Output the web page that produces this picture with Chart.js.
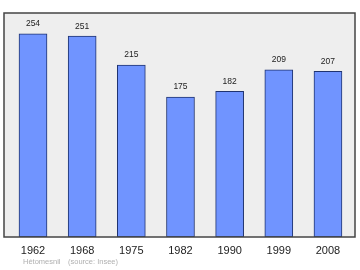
<!DOCTYPE html>
<html><head><meta charset="utf-8">
<script src="https://cdn.jsdelivr.net/npm/chart.js@4/dist/chart.umd.min.js"></script>
<style>html,body{margin:0;padding:0;background:#fff}#w{width:360px;height:270px}</style>
</head><body><div id="w"><canvas id="c" width="360" height="270"></canvas></div>
<script>
const years = ["1962","1968","1975","1982","1990","1999","2008"];
const population = [254, 251, 215, 175, 182, 209, 207];
const footerName = "Hétomesnil";
const footerSource = "(source: Insee)";

const points = population.map((v, i) => ({x: i, y: v}));

const framePlugin = {
  id: 'frame',
  beforeDatasetsDraw(chart) {
    const {ctx, chartArea: a} = chart;
    ctx.save();
    ctx.fillStyle = '#eeeeee';
    ctx.fillRect(a.left, a.top, a.right - a.left, a.bottom - a.top);
    ctx.restore();
  },
  afterDatasetsDraw(chart) {
    const {ctx, chartArea: a} = chart;
    ctx.save();
    ctx.strokeStyle = '#444444';
    ctx.lineWidth = 1.5;
    ctx.strokeRect(a.left, a.top, a.right - a.left, a.bottom - a.top);
    const meta = chart.getDatasetMeta(0);
    ctx.fillStyle = '#222222';
    ctx.font = '8.5px "Liberation Sans", Arial, sans-serif';
    ctx.textAlign = 'center';
    ctx.textBaseline = 'middle';
    meta.data.forEach((bar, i) => {
      ctx.fillText(String(population[i]), bar.x, bar.y - 10);
    });
    ctx.fillStyle = '#b0b0b0';
    ctx.font = '7.5px "Liberation Sans", Arial, sans-serif';
    ctx.textAlign = 'left';
    ctx.fillText(footerName, 23, 262);
    ctx.fillText(footerSource, 68, 262);
    ctx.restore();
  }
};

new Chart(document.getElementById('c'), {
  type: 'bar',
  data: {
    datasets: [{
      data: points,
      backgroundColor: '#7094ff',
      borderColor: '#1f3370',
      borderWidth: 1,
      barThickness: 28,
      borderSkipped: false
    }]
  },
  options: {
    responsive: false,
    animation: false,
    layout: {padding: {left: 4, right: 5, top: 13, bottom: 0}},
    plugins: {legend: {display: false}, tooltip: {enabled: false}},
    scales: {
      x: {
        type: 'linear',
        offset: false,
        min: -0.59,
        max: 6.55,
        border: {display: false},
        grid: {display: false, drawTicks: false, offset: false},
        afterBuildTicks(scale) {
          scale.ticks = years.map((y, i) => ({value: i}));
        },
        afterFit(scale) { scale.height = 33; },
        ticks: {
          autoSkip: false,
          maxRotation: 0,
          padding: 7,
          color: '#222222',
          font: {family: '"Liberation Sans", Arial, sans-serif', size: 11},
          callback: (v) => years[v]
        }
      },
      y: {
        display: false,
        min: 0,
        max: 280
      }
    }
  },
  plugins: [framePlugin]
});
</script>
</body></html>
